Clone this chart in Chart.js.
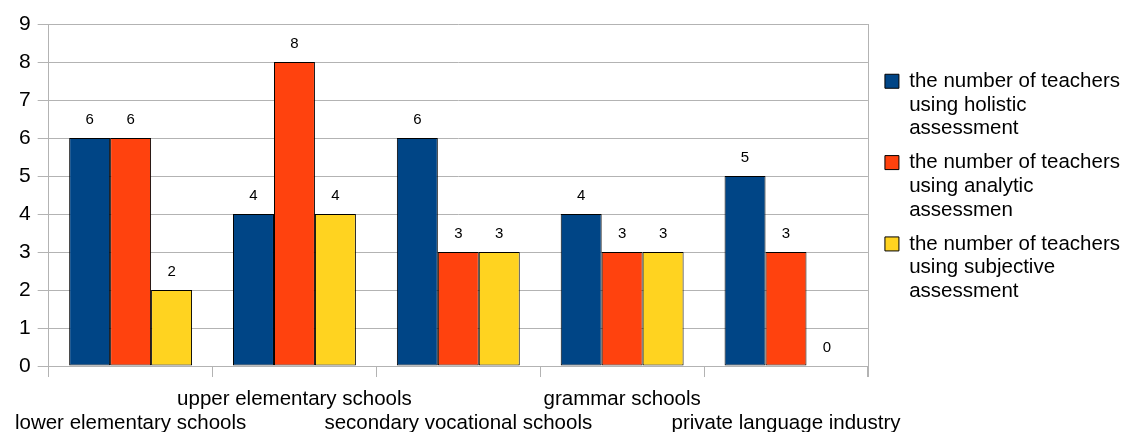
<!DOCTYPE html>
<html>
<head>
<meta charset="utf-8">
<script src="https://cdn.jsdelivr.net/npm/chart.js@4/dist/chart.umd.min.js"></script>
<style>
  html, body { margin: 0; padding: 0; background: #fff; }
  #wrap { width: 1126px; height: 432px; position: relative; }
</style>
</head>
<body>
<div id="wrap"><canvas id="chart"></canvas></div>
<script>
// categories and series
const categories = [
  "lower elementary schools",
  "upper elementary schools",
  "secondary vocational schools",
  "grammar schools",
  "private language industry"
];
const holistic = [6, 4, 6, 4, 5];
const analytic = [6, 8, 3, 3, 3];
const subjective = [2, 4, 3, 3, 0];
const seriesNames = [
  ["the number of teachers", "using holistic", "assessment"],
  ["the number of teachers", "using analytic", "assessmen"],
  ["the number of teachers", "using subjective", "assessment"]
];
const yTicks = [0, 1, 2, 3, 4, 5, 6, 7, 8, 9];

const gridGray = "#b3b3b3";
const fontFamily = "'Liberation Sans', Arial, sans-serif";

// numbers above each bar
const valueLabels = {
  id: "valueLabels",
  afterDatasetsDraw(chart) {
    const ctx = chart.ctx;
    ctx.save();
    ctx.font = "15px " + fontFamily;
    ctx.fillStyle = "#000";
    ctx.textAlign = "center";
    ctx.textBaseline = "middle";
    chart.data.datasets.forEach((ds, i) => {
      chart.getDatasetMeta(i).data.forEach((bar, j) => {
        ctx.fillText(String(ds.data[j]), bar.x, bar.y - 18);
      });
    });
    ctx.restore();
  }
};

// right edge of the plot frame, down to the tick ends
const frameRight = {
  id: "frameRight",
  afterDraw(chart) {
    const a = chart.chartArea;
    const ctx = chart.ctx;
    ctx.save();
    ctx.strokeStyle = gridGray;
    ctx.lineWidth = 1;
    ctx.beginPath();
    ctx.moveTo(Math.round(a.right) + 0.5, a.top);
    ctx.lineTo(Math.round(a.right) + 0.5, a.bottom + 11);
    ctx.stroke();
    ctx.restore();
  }
};

const colors = ["#004586", "#ff420e", "#ffd320"];
const seriesData = [holistic, analytic, subjective];

new Chart(document.getElementById("chart"), {
  type: "bar",
  data: {
    labels: categories,
    datasets: seriesData.map((d, i) => ({
      label: seriesNames[i],
      data: d,
      backgroundColor: colors[i],
      borderColor: "#000",
      borderWidth: 1,
      borderSkipped: false,
      categoryPercentage: 0.75,
      barPercentage: 1.0
    }))
  },
  options: {
    responsive: true,
    maintainAspectRatio: false,
    animation: false,
    layout: { padding: { left: 12, right: -4, top: 24, bottom: -13 } },
    plugins: {
      tooltip: { enabled: false },
      legend: {
        position: "right",
        align: "start",
        maxWidth: 262,
        title: {
          display: true,
          text: "",
          padding: 0,
          font: { size: 10, lineHeight: 3.7 }
        },
        labels: {
          boxWidth: 14,
          boxHeight: 14,
          padding: 10,
          color: "#000",
          font: { family: fontFamily, size: 20.5, lineHeight: 1.16 },
          generateLabels(chart) {
            return chart.data.datasets.map((ds, i) => ({
              text: ds.label,
              fillStyle: ds.backgroundColor,
              strokeStyle: "#000",
              fontColor: "#000",
              lineWidth: 1,
              datasetIndex: i
            }));
          }
        }
      }
    },
    scales: {
      x: {
        offset: true,
        grid: {
          offset: true,
          drawOnChartArea: false,
          drawTicks: true,
          tickLength: 11,
          color: gridGray
        },
        border: { color: gridGray },
        ticks: {
          autoSkip: false,
          maxRotation: 0,
          minRotation: 0,
          color: "#000",
          padding: 10,
          font: { family: fontFamily, size: 20.5, lineHeight: 1.17 },
          callback(value, index) {
            const name = categories[index];
            return index % 2 === 0 ? ["", name] : [name, ""];
          }
        }
      },
      y: {
        min: yTicks[0],
        max: yTicks[yTicks.length - 1],
        afterBuildTicks(scale) { scale.ticks = yTicks.map(v => ({ value: v })); },
        grid: { color: gridGray, drawTicks: true, tickLength: 11 },
        border: { color: gridGray },
        ticks: {
          color: "#000",
          padding: 7,
          font: { family: fontFamily, size: 21 }
        }
      },
      // empty strip between the plot and the legend
      gap: {
        type: "linear",
        position: "right",
        display: true,
        grid: { display: false },
        border: { display: false },
        ticks: { display: false },
        afterFit(scale) { scale.width = 7; }
      }
    }
  },
  plugins: [valueLabels, frameRight]
});
</script>
</body>
</html>
